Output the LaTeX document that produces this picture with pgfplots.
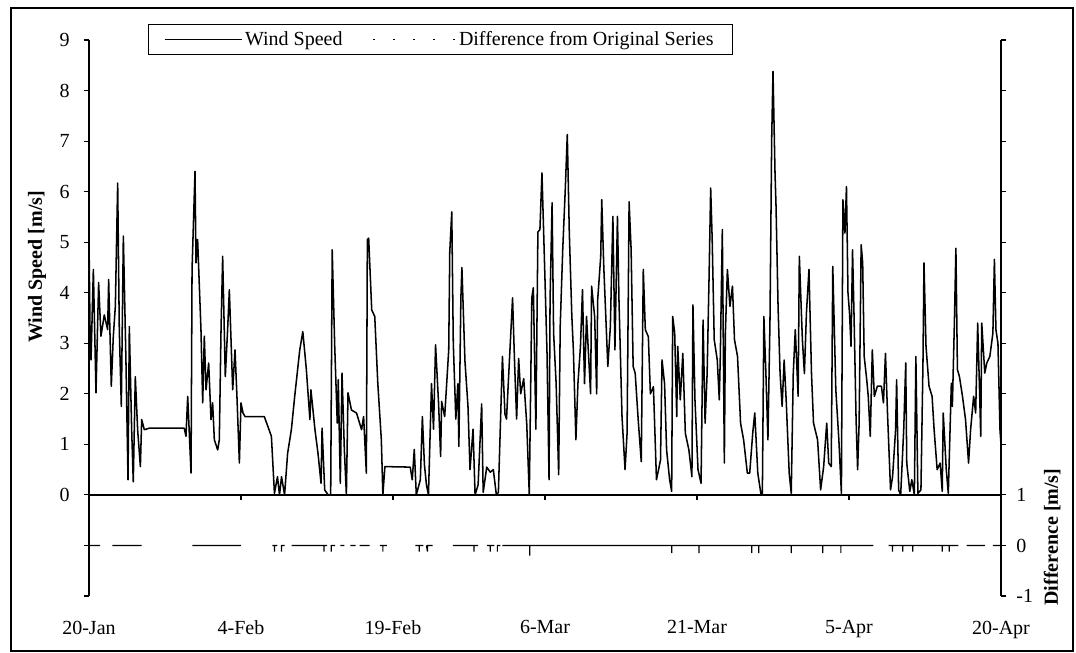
\documentclass[border=0pt]{standalone}
\usepackage{fontspec}
\setmainfont{Liberation Serif}
\usepackage{pgfplots}
\pgfplotsset{compat=1.18}
\begin{document}
\begin{tikzpicture}[font=\fontsize{15}{18}\selectfont]
\useasboundingbox (0pt,0pt) rectangle (807pt,489.75pt);
\draw[line width=0.8pt] (8.25pt,1.5pt) rectangle (804.75pt,483.75pt);
\begin{axis}[
  at={(66.75pt,42.75pt)}, anchor=south west,
  scale only axis, width=684pt, height=417pt,
  xmin=0, xmax=90, ymin=-2, ymax=9,
  axis x line*=middle, axis y line*=left,
  axis line style={-, line width=0.9pt, black},
  x axis line style={line width=1.3pt},
  xtick={0,15,...,90}, xticklabels={},
  ytick={-2,...,9}, yticklabels={,,0,1,2,3,4,5,6,7,8,9},
  tick align=outside, major tick length=4pt,
  tick style={black, line width=0.8pt},
  yticklabel style={xshift=-7pt},
  ylabel={\textbf{Wind Speed [m/s]}},
  ylabel style={at={(axis description cs:-0.057,0.592)}, anchor=center},
]
\addplot[black, line width=1.15pt, mark=none, line join=round] table {
0 5.05
0.1 3.3
0.2 2.67
0.43 4.46
0.69 2.02
0.95 4.2
1.18 3.14
1.51 3.56
1.84 3.27
1.94 4.26
2.2 2.15
2.4 3.14
2.6 3.73
2.83 6.17
2.99 3.27
3.19 1.75
3.39 5.12
3.65 2.61
3.85 0.3
3.98 3.33
4.21 1.29
4.37 0.26
4.57 2.34
4.8 1.29
5.07 0.56
5.2 1.49
5.46 1.29
5.95 1.32
9.4 1.32
9.57 1.16
9.74 1.95
10.07 0.43
10.17 4.46
10.46 6.4
10.56 4.59
10.72 5.05
11.05 3.27
11.22 1.82
11.38 3.14
11.55 2.08
11.81 2.61
12.04 1.49
12.2 1.82
12.37 1.09
12.7 0.89
12.86 1.09
13.03 3.27
13.19 4.72
13.45 2.34
13.68 3.27
13.85 4.06
14.18 2.08
14.41 2.87
14.6 1.95
14.84 0.63
15.0 1.82
15.2 1.62
15.4 1.55
17.3 1.55
18.0 1.16
18.3 0.03
18.6 0.36
18.8 0
19.0 0.36
19.3 0
19.6 0.82
19.97 1.29
20.3 1.95
20.8 2.87
21.1 3.23
21.45 2.48
21.8 1.49
21.9 2.08
22.3 1.29
22.6 0.82
22.9 0.23
23.0 1.32
23.26 0.1
23.6 0
23.85 0
24.0 4.85
24.25 2.94
24.5 1.42
24.6 2.28
24.8 0.23
24.97 2.41
25.2 0.89
25.4 0
25.56 2.02
25.9 1.68
26.4 1.62
26.9 1.29
27.1 1.55
27.37 0.43
27.47 5.05
27.6 5.08
27.9 3.66
28.2 3.53
28.5 2.21
28.85 1.09
29.0 0
29.2 0.56
31.7 0.55
31.9 0.3
32.1 0.9
32.3 0
32.7 0.3
32.9 1.55
33.1 0.6
33.3 0.2
33.5 0
33.8 2.2
34.0 1.3
34.2 2.97
34.5 1.8
34.7 0.76
34.8 1.85
35.1 1.55
35.5 2.87
35.6 4.8
35.8 5.6
35.95 3.0
36.2 1.5
36.4 2.2
36.5 0.96
36.7 3.9
36.8 4.5
37.1 2.65
37.4 1.75
37.6 0.5
37.9 1.3
38.1 0
38.4 0.2
38.75 1.8
38.9 0.05
39.25 0.55
39.6 0.45
39.9 0.5
40.2 0
40.4 0.05
40.8 2.74
41.05 1.6
41.2 1.5
41.5 2.7
41.8 3.9
42.0 2.6
42.2 1.5
42.4 2.7
42.6 2.0
42.9 2.3
43.2 1.4
43.45 0
43.7 3.9
43.85 4.1
44.1 1.3
44.3 5.2
44.5 5.25
44.7 6.37
45.0 4.26
45.2 2.8
45.4 0.3
45.5 3.86
45.7 5.78
45.85 3.2
46.1 2.2
46.35 0.4
46.5 3.33
46.75 4.85
47.0 6.04
47.2 7.13
47.4 5.18
47.65 3.53
47.8 2.87
48.05 1.09
48.25 2.2
48.5 2.94
48.7 4.06
48.9 2.2
49.1 3.53
49.5 2.0
49.6 4.13
49.9 3.53
50.1 2.0
50.2 3.86
50.5 4.72
50.6 5.84
50.8 4.52
51.0 3.53
51.2 2.54
51.45 3.33
51.7 5.51
51.9 2.87
52.15 5.51
52.3 3.86
52.6 1.55
52.9 0.5
53.1 1.22
53.3 5.8
53.5 4.85
53.7 2.54
53.9 2.41
54.2 1.48
54.5 0.66
54.7 4.46
54.9 3.27
55.2 3.13
55.4 2.0
55.7 2.14
56.0 0.3
56.4 0.69
56.55 2.67
56.8 2.2
57.0 0.89
57.3 0.3
57.5 0.07
57.6 3.53
57.8 3.2
58.0 1.55
58.1 2.94
58.35 1.88
58.6 2.8
58.85 1.22
59.2 0.89
59.5 0.36
59.6 3.76
59.8 1.88
60.1 0.5
60.4 0.23
60.6 3.46
60.8 1.42
61.0 2.4
61.2 4.4
61.35 6.07
61.5 5.05
61.7 3.07
62.0 2.67
62.2 1.88
62.3 2.74
62.5 5.25
62.7 0.63
62.8 3.2
63.0 4.46
63.25 3.73
63.5 4.13
63.7 3.07
64.0 2.74
64.3 1.42
64.6 1.09
64.97 0.43
65.2 0.43
65.5 1.22
65.7 1.62
66.0 0.43
66.3 0.03
66.45 0
66.6 3.53
66.8 2.4
67.0 1.09
67.2 3.4
67.37 7.03
67.5 8.38
67.7 6.37
67.8 5.71
68.0 3.73
68.2 2.4
68.4 1.75
68.6 2.67
68.8 1.88
69.1 0.43
69.3 0.03
69.5 2.4
69.7 3.27
69.98 1.95
70.1 4.72
70.4 3.07
70.6 2.4
70.8 3.6
71.05 4.46
71.3 2.4
71.5 1.42
71.9 1.09
72.2 0.1
72.5 0.56
72.8 1.42
73.0 0.63
73.25 0.56
73.4 4.52
73.7 2.08
74.0 1.09
74.25 0.03
74.4 5.84
74.6 5.18
74.75 6.1
74.9 4.0
75.05 3.6
75.2 2.94
75.35 4.85
75.5 3.53
75.7 1.49
75.85 0.5
76.0 1.42
76.2 4.95
76.35 4.59
76.5 2.74
76.75 2.28
76.9 1.95
77.1 1.16
77.3 2.87
77.5 1.95
77.8 2.15
78.2 2.15
78.4 1.82
78.6 2.8
78.8 1.62
79.1 0.1
79.3 0.36
79.6 1.29
79.7 2.28
79.9 0.1
80.1 0
80.4 1.29
80.6 2.61
80.7 0.63
81.0 0.07
81.2 0.3
81.45 0
81.6 2.74
81.8 0.03
82.1 0.1
82.3 2.61
82.4 4.59
82.6 2.94
82.9 2.15
83.2 1.95
83.4 1.29
83.7 0.5
84.0 0.63
84.2 0.07
84.3 1.62
84.6 0.5
84.8 0.03
85.1 2.21
85.2 1.75
85.4 3.4
85.55 4.88
85.7 2.48
85.9 2.34
86.2 1.95
86.5 1.49
86.8 0.63
87.0 1.29
87.3 1.95
87.5 1.62
87.7 3.4
87.9 1.95
88.0 1.16
88.1 3.4
88.4 2.41
88.6 2.61
88.9 2.74
89.2 3.2
89.35 4.66
89.5 3.27
89.7 3.0
89.9 1.29
90.0 1.0
};
\end{axis}
\begin{axis}[
  at={(66.75pt,42.75pt)}, anchor=south west,
  scale only axis, width=684pt, height=417pt,
  xmin=0, xmax=90, ymin=-1, ymax=10,
  axis x line*=bottom, axis y line*=right,
  axis line style={-, line width=0.9pt, black},
  x axis line style={draw=none},
  xtick={0,15,...,90},
  xticklabels={20-Jan,4-Feb,19-Feb,6-Mar,21-Mar,5-Apr,20-Apr},
  xtick style={draw=none},
  xticklabel style={yshift=-11pt},
  ytick={-1,...,10}, yticklabels={-1,0,1,,,,,,,,,},
  tick align=outside, major tick length=4pt,
  ytick style={black, line width=0.8pt},
  yticklabel style={xshift=4pt},
  ylabel={\textbf{Difference [m/s]}},
  ylabel style={at={(axis description cs:1.056,0.106)}, anchor=center, rotate=0},
  unbounded coords=jump,
  legend columns=2,
  legend cell align=left,
  legend style={at={(axis description cs:0.385,1.001)}, anchor=center,
    draw=black, line width=0.7pt, fill=white, inner xsep=12pt, inner ysep=3pt,
    /tikz/every even column/.append style={column sep=20pt},
    font=\fontsize{15}{18}\selectfont},
]
\addlegendimage{legend image code/.code={\draw[black, line width=0.8pt] (0pt,0pt) -- (58pt,0pt);}}
\addlegendentry{Wind Speed}
\addplot[black, line width=0.9pt, mark=none,
  legend image code/.code={\draw[black, line width=1.3pt, dash pattern=on 1.3pt off 13.7pt] (0pt,0pt) -- (62pt,0pt);}] table {
0.1 0
1.1 0
1.2 nan
2.3 0
5.2 0
5.3 nan
10.2 0
15.0 0
15.1 nan
18.1 0
18.3 0
18.3 -0.12
18.3 0
18.6 0
18.7 nan
19.0 0
19.0 -0.12
19.0 0
19.3 0
19.4 nan
20.0 0
22.9 0
23.2 0
23.2 -0.12
23.2 0
23.5 0
23.6 nan
23.9 0
23.9 -0.12
23.9 0
24.3 0
24.4 nan
24.8 0
25.2 0
25.3 nan
25.8 0
26.3 0
26.4 nan
26.7 0
27.7 0
27.8 nan
28.7 0
29.0 0
29.0 -0.12
29.0 0
29.4 0
29.5 nan
32.2 0
32.6 0
32.6 -0.12
32.6 0
33.0 0
33.1 nan
33.3 0
33.4 -0.12
33.4 0
33.9 0
34.0 nan
35.9 0
37.8 0
38.0 0
38.0 -0.12
38.0 0
38.4 0
38.5 nan
39.3 0
39.6 0
39.6 -0.12
39.6 0
40.0 0
40.1 nan
40.3 0
40.3 -0.12
40.3 0
40.6 0
40.7 nan
40.8 0
43.5 0
43.5 -0.2
43.5 0
57.5 0
57.5 -0.15
57.5 0
60.2 0
60.2 -0.15
60.2 0
65.4 0
65.4 -0.15
65.4 0
66.1 0
66.1 -0.15
66.1 0
69.3 0
69.3 -0.15
69.3 0
72.4 0
72.4 -0.15
72.4 0
74.2 0
74.2 -0.15
74.2 0
77.4 0
77.5 nan
78.9 0
79.3 0
79.3 -0.12
79.3 0
79.8 0
80.3 0
80.3 -0.12
80.3 0
80.8 0
81.3 0
81.3 -0.12
81.3 0
81.8 0
82.5 0
83.9 0
84.2 0
84.2 -0.12
84.2 0
84.9 0
84.9 -0.12
84.9 0
85.8 0
85.9 nan
86.6 0
88.4 0
88.5 nan
89.2 0
90 0
};
\addlegendentry{Difference from Original Series}
\end{axis}
\end{tikzpicture}
\end{document}
